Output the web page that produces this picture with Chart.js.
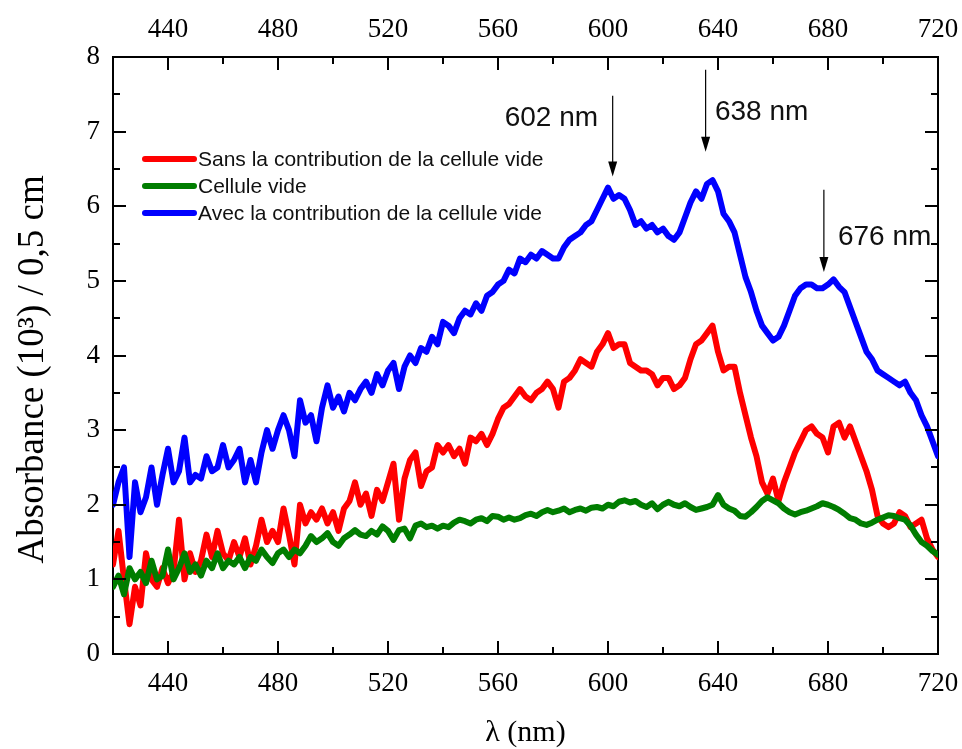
<!DOCTYPE html>
<html><head><meta charset="utf-8">
<script src="https://cdn.jsdelivr.net/npm/chart.js@4.4.1/dist/chart.umd.min.js"></script>
<style>html,body{margin:0;padding:0;background:#fff}#wrap{width:962px;height:749px;position:relative}</style>
</head><body><div id="wrap"><canvas id="c"></canvas></div>
<script>
// ---- data ----
const wavelengths = [420,422,424,426,428,430,432,434,436,438,440,442,444,446,448,450,452,454,456,458,460,462,464,466,468,470,472,474,476,478,480,482,484,486,488,490,492,494,496,498,500,502,504,506,508,510,512,514,516,518,520,522,524,526,528,530,532,534,536,538,540,542,544,546,548,550,552,554,556,558,560,562,564,566,568,570,572,574,576,578,580,582,584,586,588,590,592,594,596,598,600,602,604,606,608,610,612,614,616,618,620,622,624,626,628,630,632,634,636,638,640,642,644,646,648,650,652,654,656,658,660,662,664,666,668,670,672,674,676,678,680,682,684,686,688,690,692,694,696,698,700,702,704,706,708,710,712,714,716,718,720];

const sansContribution = [
1.2,1.65,1.0,0.4,0.9,0.65,1.35,1.0,0.9,1.15,
0.95,1.1,1.8,1.0,1.35,1.1,1.25,1.6,1.3,1.65,
1.35,1.25,1.5,1.3,1.55,1.2,1.45,1.8,1.5,1.65,
1.5,1.95,1.6,1.2,2.0,1.75,1.9,1.8,1.95,1.75,
1.9,1.65,1.95,2.05,2.3,2.0,2.15,1.85,2.2,2.05,
2.3,2.55,1.8,2.35,2.6,2.7,2.25,2.45,2.5,2.8,
2.7,2.8,2.65,2.75,2.55,2.9,2.85,2.95,2.8,2.95,
3.15,3.3,3.35,3.45,3.55,3.45,3.4,3.5,3.55,3.65,
3.55,3.3,3.65,3.7,3.8,3.95,3.9,3.85,4.05,4.15,
4.3,4.1,4.15,4.15,3.9,3.85,3.8,3.8,3.75,3.6,
3.7,3.7,3.55,3.6,3.7,3.95,4.15,4.2,4.3,4.4,
4.05,3.8,3.85,3.85,3.5,3.2,2.9,2.65,2.3,2.15,
2.35,2.05,2.3,2.5,2.7,2.85,3.0,3.05,2.95,2.9,
2.7,3.05,3.1,2.9,3.05,2.85,2.65,2.45,2.2,1.85,
1.75,1.7,1.75,1.9,1.85,1.7,1.75,1.8,1.55,1.4,
1.3];

const celluleVide = [
0.9,1.05,0.8,1.15,1.0,1.1,0.95,1.25,1.0,1.05,
1.4,1.0,1.15,1.35,1.1,1.2,1.05,1.25,1.15,1.35,
1.15,1.25,1.2,1.3,1.15,1.3,1.25,1.4,1.3,1.22,
1.35,1.4,1.3,1.4,1.35,1.45,1.58,1.5,1.55,1.62,
1.5,1.45,1.55,1.6,1.66,1.6,1.58,1.65,1.6,1.71,
1.65,1.53,1.66,1.68,1.55,1.72,1.75,1.7,1.72,1.68,
1.72,1.7,1.76,1.8,1.78,1.75,1.8,1.82,1.78,1.85,
1.84,1.8,1.83,1.8,1.82,1.86,1.88,1.85,1.9,1.93,
1.9,1.92,1.95,1.9,1.93,1.95,1.92,1.96,1.97,1.95,
2.0,1.98,2.04,2.06,2.03,2.05,2.0,1.97,2.02,1.94,
2.0,2.04,2.0,1.98,2.02,1.97,1.93,1.95,1.97,2.0,
2.13,2.0,1.95,1.92,1.85,1.84,1.9,1.97,2.05,2.1,
2.06,2.02,1.95,1.9,1.87,1.9,1.92,1.95,1.98,2.02,
2.0,1.97,1.93,1.88,1.82,1.8,1.75,1.73,1.76,1.8,
1.83,1.86,1.85,1.82,1.8,1.72,1.6,1.5,1.45,1.38,
1.33];

const avecContribution = [
2.0,2.3,2.5,1.3,2.3,1.9,2.1,2.5,2.0,2.4,
2.75,2.3,2.45,2.9,2.3,2.4,2.35,2.65,2.45,2.5,
2.8,2.5,2.6,2.75,2.3,2.6,2.3,2.7,3.0,2.75,
3.0,3.2,3.0,2.65,3.4,3.1,3.2,2.85,3.3,3.6,
3.3,3.45,3.25,3.5,3.4,3.55,3.65,3.5,3.75,3.6,
3.8,3.9,3.55,3.85,4.0,3.9,4.1,4.05,4.25,4.15,
4.45,4.4,4.3,4.5,4.6,4.55,4.7,4.6,4.8,4.85,
4.95,5.0,5.15,5.1,5.3,5.25,5.35,5.3,5.4,5.35,
5.3,5.3,5.45,5.55,5.6,5.65,5.75,5.8,5.95,6.1,
6.25,6.1,6.15,6.1,5.95,5.75,5.8,5.7,5.75,5.65,
5.7,5.6,5.55,5.65,5.85,6.05,6.2,6.1,6.3,6.35,
6.2,5.9,5.8,5.65,5.35,5.05,4.85,4.6,4.4,4.3,
4.2,4.25,4.4,4.6,4.8,4.9,4.95,4.95,4.9,4.9,
4.95,5.02,4.92,4.85,4.65,4.45,4.25,4.05,3.95,3.8,
3.75,3.7,3.65,3.6,3.65,3.5,3.4,3.2,3.05,2.85,
2.65];

const seriesLabels = ['Sans la contribution de la cellule vide', 'Cellule vide', 'Avec la contribution de la cellule vide'];
const xTickLabels = [440, 480, 520, 560, 600, 640, 680, 720];
const yTickLabels = [0, 1, 2, 3, 4, 5, 6, 7, 8];
const peakLabels = ['602 nm', '638 nm', '676 nm'];

// ---- styling / layout ----
const SERIF = '"Liberation Serif", "Times New Roman", serif';
const SANS = '"Liberation Sans", Arial, sans-serif';
const COLORS = ['#ff0000', '#007d00', '#0000ff'];

const toPts = arr => wavelengths.map((w, i) => ({x: w, y: arr[i]}));

// arrow annotations in data coordinates
const arrows = [
  {x: 601.7, y1: 7.48, y2: 6.40, tx: 596.4, ty: 7.18, align: 'right'},
  {x: 635.5, y1: 7.83, y2: 6.73, tx: 638.9, ty: 7.26, align: 'left'},
  {x: 678.5, y1: 6.22, y2: 5.12, tx: 683.6, ty: 5.59, align: 'left'}
];

const frameTicks = {
  id: 'frameTicks',
  afterDraw(chart) {
    const {ctx, chartArea: a, scales} = chart;
    ctx.save();
    ctx.strokeStyle = '#000';
    ctx.lineWidth = 2;
    const seg = (x1, y1, x2, y2) => { ctx.beginPath(); ctx.moveTo(x1, y1); ctx.lineTo(x2, y2); ctx.stroke(); };
    scales.x.ticks.forEach(t => {
      const px = Math.round(scales.x.getPixelForValue(t.value));
      if (px <= a.left + 1 || px >= a.right - 1) return;
      const len = xTickLabels.includes(t.value) ? 13 : 7;
      seg(px, a.bottom, px, a.bottom - len);
      seg(px, a.top, px, a.top + len);
    });
    scales.y.ticks.forEach(t => {
      const py = Math.round(scales.y.getPixelForValue(t.value));
      if (py <= a.top + 1 || py >= a.bottom - 1) return;
      const len = yTickLabels.includes(t.value) ? 13 : 7;
      seg(a.left, py, a.left + len, py);
      seg(a.right, py, a.right - len, py);
    });
    ctx.restore();
  }
};

const legendInside = {
  id: 'legendInside',
  afterDraw(chart) {
    const {ctx} = chart;
    ctx.save();
    const rows = [159, 186, 213];
    chart.data.datasets.forEach((ds, i) => {
      ctx.strokeStyle = ds.borderColor;
      ctx.lineWidth = 6;
      ctx.lineCap = 'round';
      ctx.beginPath(); ctx.moveTo(145, rows[i]); ctx.lineTo(194, rows[i]); ctx.stroke();
      ctx.fillStyle = '#111';
      ctx.font = '21px ' + SANS;
      ctx.textBaseline = 'middle';
      ctx.textAlign = 'left';
      ctx.fillText(ds.label, 198, rows[i] + 1);
    });
    ctx.restore();
  }
};

const peakArrows = {
  id: 'peakArrows',
  afterDraw(chart) {
    const {ctx, scales: {x, y}} = chart;
    ctx.save();
    ctx.strokeStyle = '#000';
    ctx.fillStyle = '#000';
    ctx.lineWidth = 1.2;
    arrows.forEach((a, i) => {
      const px = x.getPixelForValue(a.x);
      const p1 = y.getPixelForValue(a.y1);
      const p2 = y.getPixelForValue(a.y2);
      ctx.beginPath(); ctx.moveTo(px, p1); ctx.lineTo(px, p2 - 12); ctx.stroke();
      ctx.beginPath(); ctx.moveTo(px - 4.5, p2 - 15); ctx.lineTo(px + 4.5, p2 - 15); ctx.lineTo(px, p2); ctx.closePath(); ctx.fill();
      ctx.font = '28px ' + SANS;
      ctx.textBaseline = 'middle';
      ctx.textAlign = a.align;
      ctx.fillStyle = '#111';
      ctx.fillText(peakLabels[i], x.getPixelForValue(a.tx), y.getPixelForValue(a.ty));
      ctx.fillStyle = '#000';
    });
    ctx.restore();
  }
};

const tickFont = {family: SERIF, size: 27, lineHeight: 1};
const noSidePad = s => { s.paddingLeft = 0; s.paddingRight = 0; };

new Chart(document.getElementById('c'), {
  type: 'line',
  data: {
    datasets: [
      {label: seriesLabels[0], data: toPts(sansContribution), borderColor: COLORS[0], order: 1},
      {label: seriesLabels[1], data: toPts(celluleVide), borderColor: COLORS[1], order: 0},
      {label: seriesLabels[2], data: toPts(avecContribution), borderColor: COLORS[2], order: 2}
    ].map(d => Object.assign(d, {borderWidth: 6, pointRadius: 0, tension: 0, borderJoinStyle: 'round', borderCapStyle: 'round', fill: false}))
  },
  options: {
    responsive: true,
    maintainAspectRatio: false,
    animation: false,
    layout: {padding: 0},
    plugins: {legend: {display: false}, tooltip: {enabled: false}},
    scales: {
      x: {
        type: 'linear', position: 'bottom', min: 420, max: 720,
        grid: {display: false, drawTicks: false},
        border: {display: true, color: '#000', width: 2},
        ticks: {stepSize: 20, autoSkip: false, maxRotation: 0, padding: 16, color: '#000', font: tickFont,
          callback: v => xTickLabels.includes(v) ? String(v) : ''},
        title: {display: true, text: 'λ (nm)', color: '#000', font: {family: SERIF, size: 30, lineHeight: 1}, padding: {top: 0, bottom: 1}},
        afterFit: s => { s.height = 95; noSidePad(s); }
      },
      x2: {
        type: 'linear', position: 'top', min: 420, max: 720,
        grid: {display: false, drawTicks: false},
        border: {display: true, color: '#000', width: 2},
        ticks: {stepSize: 20, autoSkip: false, maxRotation: 0, padding: 14, color: '#000', font: tickFont,
          callback: v => xTickLabels.includes(v) ? String(v) : ''},
        afterFit: s => { s.height = 57; noSidePad(s); }
      },
      y: {
        type: 'linear', position: 'left', min: 0, max: 8,
        grid: {display: false, drawTicks: false},
        border: {display: true, color: '#000', width: 2},
        ticks: {stepSize: 0.5, autoSkip: false, padding: 13, color: '#000', font: tickFont,
          callback: v => yTickLabels.includes(v) ? String(v) : ''},
        title: {display: true, text: 'Absorbance (10³) / 0,5 cm\u00a0\u00a0\u00a0', color: '#000', font: {family: SERIF, size: 37, lineHeight: 1}, padding: {top: 15, bottom: 0}},
        afterFit: s => { s.width = 113; }
      },
      y2: {
        type: 'linear', position: 'right', min: 0, max: 8,
        grid: {display: false, drawTicks: false},
        border: {display: true, color: '#000', width: 2},
        ticks: {display: false, stepSize: 0.5},
        afterFit: s => { s.width = 24; }
      }
    }
  },
  plugins: [frameTicks, legendInside, peakArrows]
});
</script>
</body></html>
